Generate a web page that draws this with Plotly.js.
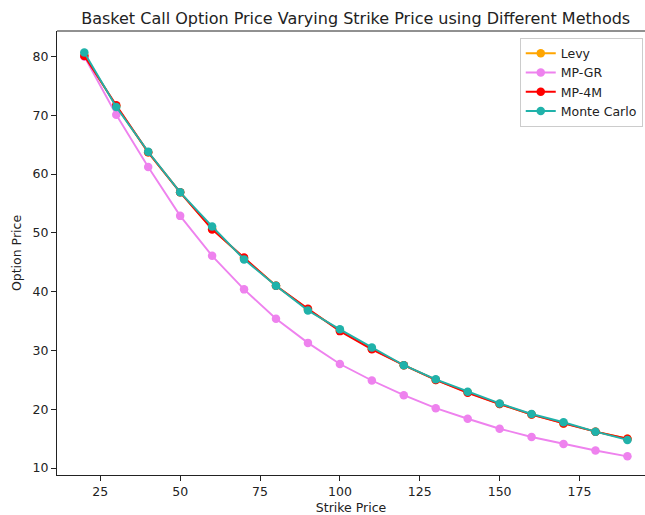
<!DOCTYPE html>
<html>
<head>
<meta charset="utf-8">
<script src="https://cdn.plot.ly/plotly-3.0.1.min.js"></script>
<style>
  html, body { margin: 0; padding: 0; background: #ffffff; }
  #chart { width: 645px; height: 515px; }
</style>
</head>
<body>
<div id="chart"></div>
<script>
// Strike prices used for the basket call
const strikes = [20, 30, 40, 50, 60, 70, 80, 90, 100, 110, 120, 130, 140, 150, 160, 170, 180, 190];

// Option prices from each pricing method
const levy       = [80.2, 71.6, 63.7, 56.9, 50.7, 45.7, 41.0, 37.0, 33.4, 30.3, 27.5, 25.0, 22.9, 20.9, 19.1, 17.6, 16.2, 15.0];
const mpGR       = [80.0, 70.1, 61.2, 52.9, 46.1, 40.4, 35.4, 31.3, 27.7, 24.9, 22.4, 20.2, 18.4, 16.7, 15.3, 14.1, 13.0, 12.0];
const mp4M       = [80.1, 71.7, 63.7, 56.9, 50.6, 45.8, 41.0, 37.1, 33.3, 30.2, 27.5, 25.0, 22.8, 20.9, 19.1, 17.6, 16.2, 15.0];
const monteCarlo = [80.7, 71.4, 63.8, 56.9, 51.1, 45.5, 41.0, 36.8, 33.6, 30.5, 27.5, 25.1, 23.0, 21.0, 19.2, 17.8, 16.2, 14.8];

// Axis ticks
const xTicks = [25, 50, 75, 100, 125, 150, 175];
const yTicks = [10, 20, 30, 40, 50, 60, 70, 80];

const seriesNames  = ['Levy', 'MP-GR', 'MP-4M', 'Monte Carlo'];
const seriesValues = [levy, mpGR, mp4M, monteCarlo];
const seriesColors = ['#ffa500', '#ee82ee', '#ff0000', '#20b2aa'];

const font = 'DejaVu Sans, sans-serif';

const traces = seriesNames.map((name, i) => ({
  type: 'scatter',
  mode: 'lines+markers',
  name: name,
  x: strikes,
  y: seriesValues[i],
  line: { color: seriesColors[i], width: 1.9 },
  marker: { color: seriesColors[i], size: 8.5 }
}));

const layout = {
  width: 645,
  height: 515,
  margin: { l: 57, r: 0, t: 31, b: 40, pad: 0 },
  paper_bgcolor: '#ffffff',
  plot_bgcolor: '#ffffff',
  font: { family: font, size: 12.5, color: '#222222' },
  showlegend: true,
  title: {
    text: 'Basket Call Option Price Varying Strike Price using Different Methods',
    font: { family: font, size: 16, color: '#222222' },
    xref: 'paper', x: 0.508, xanchor: 'center',
    yref: 'container', y: 1 - 18 / 515, yanchor: 'middle'
  },
  xaxis: {
    range: [11.45, 195.5],
    tickmode: 'array',
    tickvals: xTicks,
    ticks: 'outside', ticklen: 5, tickwidth: 1, tickcolor: '#222222',
    showgrid: false, zeroline: false,
    showline: true, linecolor: '#222222', linewidth: 1,
    tickfont: { family: font, size: 12.5, color: '#222222' },
    title: { text: 'Strike Price', font: { family: font, size: 12.5, color: '#222222' }, standoff: 12 }
  },
  yaxis: {
    range: [8.83, 84.34],
    tickmode: 'array',
    tickvals: yTicks,
    ticks: 'outside', ticklen: 5, tickwidth: 1, tickcolor: '#222222',
    showgrid: false, zeroline: false,
    showline: true, linecolor: '#222222', linewidth: 1,
    tickfont: { family: font, size: 12.5, color: '#222222' },
    title: { text: 'Option Price', font: { family: font, size: 12.5, color: '#222222' }, standoff: 8 }
  },
  legend: {
    x: 0.787, xanchor: 'left',
    y: 0.985, yanchor: 'top',
    bgcolor: 'rgba(255,255,255,0.8)',
    bordercolor: '#cccccc', borderwidth: 1,
    font: { family: font, size: 12.5, color: '#222222' },
    tracegroupgap: 0,
    itemwidth: 30
  },
  shapes: [
    // top spine of the axes frame
    { type: 'line', xref: 'paper', yref: 'paper', x0: 0, x1: 1, y0: 1, y1: 1,
      line: { color: '#222222', width: 1 } }
  ]
};

Plotly.newPlot('chart', traces, layout, { displayModeBar: false, staticPlot: true });
</script>
</body>
</html>
